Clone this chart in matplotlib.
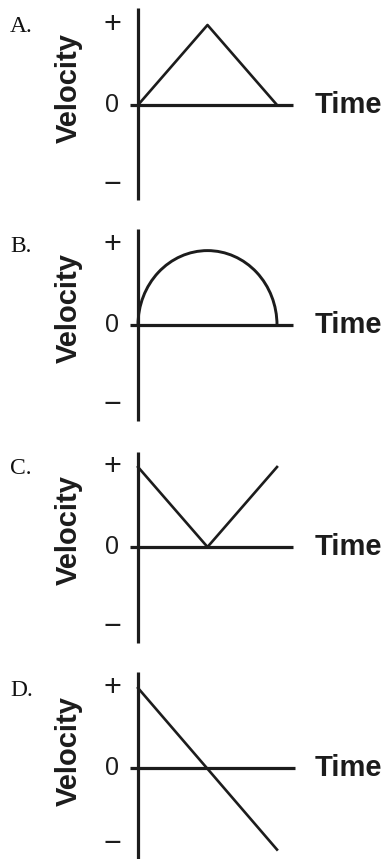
import matplotlib.pyplot as plt
from matplotlib.patches import Arc

# panel letters and zero-line position of each panel (pixels from top)
panel_labels = ['A.', 'B.', 'C.', 'D.']
zero_rows = [105, 325, 547, 768]

# velocity axis extent for each panel (top, bottom) in velocity units
vaxis_top = [1.21, 1.2, 1.19, 1.2]
vaxis_bottom = [-1.19, -1.2, -1.2, -1.15]
taxis_start = -0.115
taxis_end = [2.23, 2.23, 2.23, 2.26]

# A: triangle
time_a = [0, 1, 2]
vel_a = [0, 1.0, 0]
# B: half circle (center time, width, height)
arc_center = (1.0, 0.0)
arc_width = 2.0
arc_height = 1.86
# C: V shape
time_c = [0, 1, 2]
vel_c = [1.0, 0, 1.0]
# D: straight line down
time_d = [0, 2]
vel_d = [1.0, -1.02]

tick_labels = ['+', '0', '\u2212']
tick_sizes = [22, 18, 22]
# where + 0 - sit in each panel
tick_values = [[1, 0, -1], [1, 0, -1], [1, 0, -1], [1, 0, -0.95]]

W, H = 383, 859
x0 = 138      # time = 0 pixel column
sx = 69.5     # pixels per time unit
sy = 80       # pixels per velocity unit
half = 110    # half height of each panel axes in pixels
ink = '#1c1c1c'

fig = plt.figure(figsize=(W / 100, H / 100), dpi=100)

axes = []
for i, y0 in enumerate(zero_rows):
    ax = fig.add_axes([0, (H - (y0 + half)) / H, 1, 2 * half / H])
    ax.set_xlim(-x0 / sx, (W - x0) / sx)
    ax.set_ylim(-half / sy, half / sy)
    ax.axis('off')
    ax.patch.set_alpha(0)
    # axis lines
    ax.plot([0, 0], [vaxis_bottom[i], vaxis_top[i]], color=ink, lw=2.3, solid_capstyle='butt')
    ax.plot([taxis_start, taxis_end[i]], [0, 0], color=ink, lw=2.3, solid_capstyle='butt')
    # + 0 - labels
    for lab, v, fs in zip(tick_labels, tick_values[i], tick_sizes):
        ax.text(-26 / sx, v, lab, ha='center', va='center', fontsize=fs,
                family='Liberation Sans', color=ink)
    ax.text(-69 / sx, 17 / sy, 'Velocity', rotation=90, ha='center', va='center',
            fontsize=21, fontweight='bold', family='Liberation Sans', color=ink)
    ax.text(177 / sx, -8 / sy, 'Time', ha='left', va='baseline',
            fontsize=21, fontweight='bold', family='Liberation Sans', color=ink)
    ax.text(-128 / sx, 78 / sy, panel_labels[i], ha='left', va='center',
            fontsize=17, family='Liberation Serif', color='#111111')
    axes.append(ax)

axes[0].plot(time_a, vel_a, color=ink, lw=1.9)
axes[1].add_patch(Arc(arc_center, arc_width, arc_height, theta1=0, theta2=180,
                      color=ink, lw=2.1))
axes[2].plot(time_c, vel_c, color=ink, lw=1.9)
axes[3].plot(time_d, vel_d, color=ink, lw=1.9)

fig.savefig('out.png', dpi=100)
